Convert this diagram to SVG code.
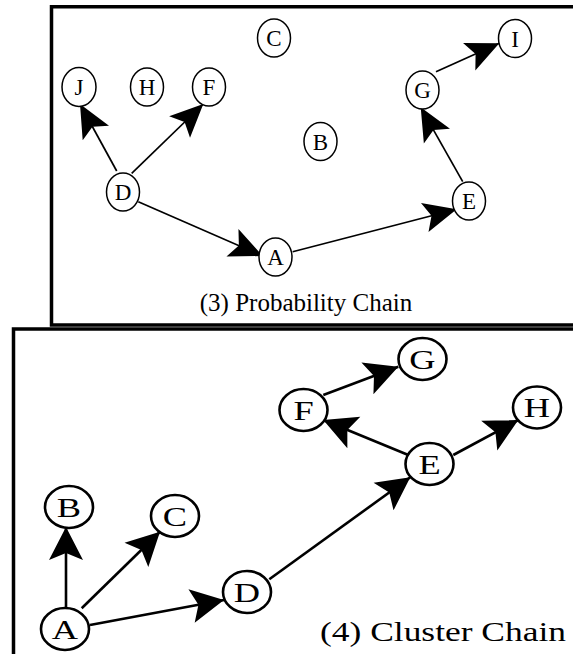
<svg xmlns="http://www.w3.org/2000/svg" width="573" height="654" viewBox="0 0 573 654">
<style>
.frame{fill:none;stroke:#000;stroke-width:3.5}
.n1 ellipse{fill:#fff;stroke:#000;stroke-width:1.5}
.n2 ellipse{fill:#fff;stroke:#000;stroke-width:2.6}
.n1 text{font-family:"Liberation Serif","Times New Roman",serif;font-size:23px;text-anchor:middle;fill:#000}
.n2 text{font-family:"Liberation Serif","Times New Roman",serif;font-size:28px;text-anchor:middle;fill:#000}
.e1 line{stroke:#000;stroke-width:1.7;marker-end:url(#ah1)}
.e2 line{stroke:#000;stroke-width:2.6;marker-end:url(#ah2)}
.cap{font-family:"Liberation Serif","Times New Roman",serif;fill:#000}
</style>
<defs>
<marker id="ah1" markerUnits="userSpaceOnUse" orient="auto" refX="0" refY="0" markerWidth="40" markerHeight="40" overflow="visible">
<path d="M0,0 L-33,-15 L-26,0 L-33,15 Z" fill="#000"/>
</marker>
<marker id="ah2" markerUnits="userSpaceOnUse" orient="auto" refX="0" refY="0" markerWidth="40" markerHeight="40" overflow="visible">
<path d="M0,0 L-33,-17 L-26,0 L-33,17 Z" fill="#000"/>
</marker>
</defs>
<rect width="573" height="654" fill="#fff"/>
<g id="panel3">
<path class="frame" d="M51.5,6.7 H580 M51.5,5 V325 H580"/>
</g>
<g id="panel4">
<path class="frame" d="M13.5,654 V329 H580"/>
</g>
<g id="edges3" class="e1">
<line x1="116.7" y1="171" x2="80" y2="104"/>
<line x1="131.7" y1="173.3" x2="203.3" y2="104"/>
<line x1="138.3" y1="201.7" x2="262.7" y2="256"/>
<line x1="292.7" y1="251.7" x2="456.7" y2="209.3"/>
<line x1="462.7" y1="181.7" x2="420.7" y2="107.3"/>
<line x1="436" y1="71.7" x2="499.3" y2="43.3"/>
</g>
<g id="edges4" class="e2">
<line x1="66" y1="607" x2="66" y2="527"/>
<line x1="81.7" y1="608.3" x2="160" y2="531.7"/>
<line x1="90" y1="625" x2="224" y2="600"/>
<line x1="269.3" y1="579.3" x2="410.3" y2="477.2"/>
<line x1="408.3" y1="455" x2="323.3" y2="420"/>
<line x1="323.3" y1="395" x2="398.3" y2="366.7"/>
<line x1="453.3" y1="455" x2="518.3" y2="420"/>
</g>
<g id="p3-C" class="n1"><ellipse cx="274" cy="38" rx="16.5" ry="19"/><text x="274" y="46">C</text></g>
<g id="p3-J" class="n1"><ellipse cx="79" cy="87" rx="17" ry="19.5"/><text x="79" y="95">J</text></g>
<g id="p3-H" class="n1"><ellipse cx="147" cy="87" rx="16.5" ry="19"/><text x="147" y="95">H</text></g>
<g id="p3-F" class="n1"><ellipse cx="209" cy="87" rx="16.5" ry="19"/><text x="209" y="95">F</text></g>
<g id="p3-B" class="n1"><ellipse cx="320.5" cy="141.5" rx="16.5" ry="19"/><text x="320.5" y="149.5">B</text></g>
<g id="p3-D" class="n1"><ellipse cx="123" cy="192" rx="16.5" ry="19"/><text x="123" y="200">D</text></g>
<g id="p3-A" class="n1"><ellipse cx="275.5" cy="257" rx="16.5" ry="19"/><text x="275.5" y="265">A</text></g>
<g id="p3-E" class="n1"><ellipse cx="469" cy="201" rx="16.5" ry="19"/><text x="469" y="209">E</text></g>
<g id="p3-G" class="n1"><ellipse cx="422.5" cy="90" rx="16.5" ry="19"/><text x="422.5" y="98">G</text></g>
<g id="p3-I" class="n1"><ellipse cx="515" cy="38.5" rx="16.5" ry="19"/><text x="515" y="46.5">I</text></g>
<text class="cap" x="306" y="311" font-size="25" text-anchor="middle">(3) Probability Chain</text>
<g id="p4-A" class="n2"><ellipse cx="65" cy="629" rx="24" ry="21"/><text transform="translate(65,638.5) scale(1.3,1)">A</text></g>
<g id="p4-B" class="n2"><ellipse cx="69" cy="507" rx="24" ry="21"/><text transform="translate(69,516.5) scale(1.3,1)">B</text></g>
<g id="p4-C" class="n2"><ellipse cx="175" cy="516" rx="24" ry="21"/><text transform="translate(175,525.5) scale(1.3,1)">C</text></g>
<g id="p4-D" class="n2"><ellipse cx="247" cy="592" rx="24" ry="21"/><text transform="translate(247,601.5) scale(1.3,1)">D</text></g>
<g id="p4-E" class="n2"><ellipse cx="429.5" cy="464" rx="24" ry="21"/><text transform="translate(429.5,473.5) scale(1.3,1)">E</text></g>
<g id="p4-F" class="n2"><ellipse cx="303.5" cy="410" rx="24" ry="21"/><text transform="translate(303.5,419.5) scale(1.3,1)">F</text></g>
<g id="p4-G" class="n2"><ellipse cx="422.5" cy="359" rx="24" ry="21"/><text transform="translate(422.5,368.5) scale(1.3,1)">G</text></g>
<g id="p4-H" class="n2"><ellipse cx="537" cy="407.5" rx="24" ry="21"/><text transform="translate(537,417) scale(1.3,1)">H</text></g>
<text class="cap" x="320" y="641" font-size="28" textLength="246" lengthAdjust="spacingAndGlyphs">(4) Cluster Chain</text>
</svg>
